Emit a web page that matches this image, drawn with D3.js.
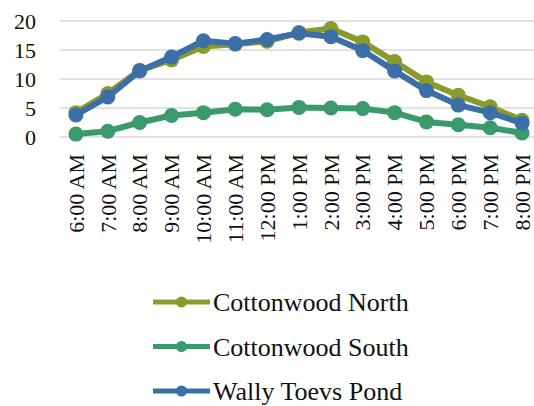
<!DOCTYPE html>
<html>
<head>
<meta charset="utf-8">
<script src="https://cdn.jsdelivr.net/npm/d3@7"></script>
<style>
  body { margin: 0; background: #fff; }
  svg { display: block; font-family: "Liberation Serif", "Times New Roman", serif; }
</style>
</head>
<body>
<div id="chart"></div>
<script>
// data
const times = ["6:00 AM", "7:00 AM", "8:00 AM", "9:00 AM", "10:00 AM", "11:00 AM", "12:00 PM",
  "1:00 PM", "2:00 PM", "3:00 PM", "4:00 PM", "5:00 PM", "6:00 PM", "7:00 PM", "8:00 PM"];
const seriesNames = ["Cottonwood North", "Cottonwood South", "Wally Toevs Pond"];
const cottonwoodNorth = [4.2, 7.5, 11.5, 13.3, 15.6, 16.0, 16.5, 18.0, 18.7, 16.4, 13.0, 9.5, 7.2, 5.2, 2.9];
const cottonwoodSouth = [0.5, 1.0, 2.5, 3.7, 4.2, 4.8, 4.7, 5.1, 5.0, 4.9, 4.2, 2.6, 2.1, 1.6, 0.7];
const wallyToevs = [3.8, 6.9, 11.4, 13.8, 16.6, 16.1, 16.8, 17.9, 17.3, 14.9, 11.4, 8.0, 5.5, 4.2, 2.4];
const yTicks = [0, 5, 10, 15, 20];
const colors = ["#8a9b2c", "#3a9a6c", "#3c6ea8"];

const width = 534, height = 406;
const svg = d3.select("#chart").append("svg")
  .attr("width", width)
  .attr("height", height);

const x = d3.scalePoint().domain(times).range([60, 538]).padding(0.5);
const y = d3.scaleLinear().domain([0, 20]).range([137, 21]);

// gridlines
svg.append("g")
  .selectAll("line")
  .data(yTicks)
  .join("line")
  .attr("x1", 60).attr("x2", 534)
  .attr("y1", d => y(d)).attr("y2", d => y(d))
  .attr("stroke", "#d9d9d9")
  .attr("stroke-width", 1.5);

// y axis labels
svg.append("g")
  .selectAll("text")
  .data(yTicks)
  .join("text")
  .attr("x", 36)
  .attr("y", d => y(d))
  .attr("dy", "0.35em")
  .attr("text-anchor", "end")
  .attr("font-size", 22)
  .attr("fill", "#111")
  .text(d => d);

// x axis labels (rotated)
svg.append("g")
  .selectAll("text")
  .data(times)
  .join("text")
  .attr("transform", d => `translate(${x(d)},154) rotate(-90)`)
  .attr("dy", "0.35em")
  .attr("text-anchor", "end")
  .attr("font-size", 22)
  .attr("fill", "#111")
  .text(d => d);

const allSeries = [cottonwoodNorth, cottonwoodSouth, wallyToevs];
const line = d3.line().x((d, i) => x(times[i])).y(d => y(d));

allSeries.forEach((vals, k) => {
  const g = svg.append("g");
  g.append("path")
    .datum(vals)
    .attr("d", line)
    .attr("fill", "none")
    .attr("stroke", colors[k])
    .attr("stroke-width", 6)
    .attr("stroke-linejoin", "round");
  g.selectAll("circle")
    .data(vals)
    .join("circle")
    .attr("cx", (d, i) => x(times[i]))
    .attr("cy", d => y(d))
    .attr("r", 7.5)
    .attr("fill", colors[k]);
});

// legend
const legend = svg.append("g")
  .selectAll("g")
  .data(seriesNames)
  .join("g")
  .attr("transform", (d, i) => `translate(0,${302 + i * 44.5})`);

legend.append("line")
  .attr("x1", 153).attr("x2", 210)
  .attr("stroke", (d, i) => colors[i])
  .attr("stroke-width", 5);
legend.append("circle")
  .attr("cx", 181.5).attr("r", 5.5)
  .attr("fill", (d, i) => colors[i]);
legend.append("text")
  .attr("x", 213)
  .attr("dy", "0.35em")
  .attr("font-size", 26)
  .attr("fill", "#111")
  .text(d => d);
</script>
</body>
</html>
